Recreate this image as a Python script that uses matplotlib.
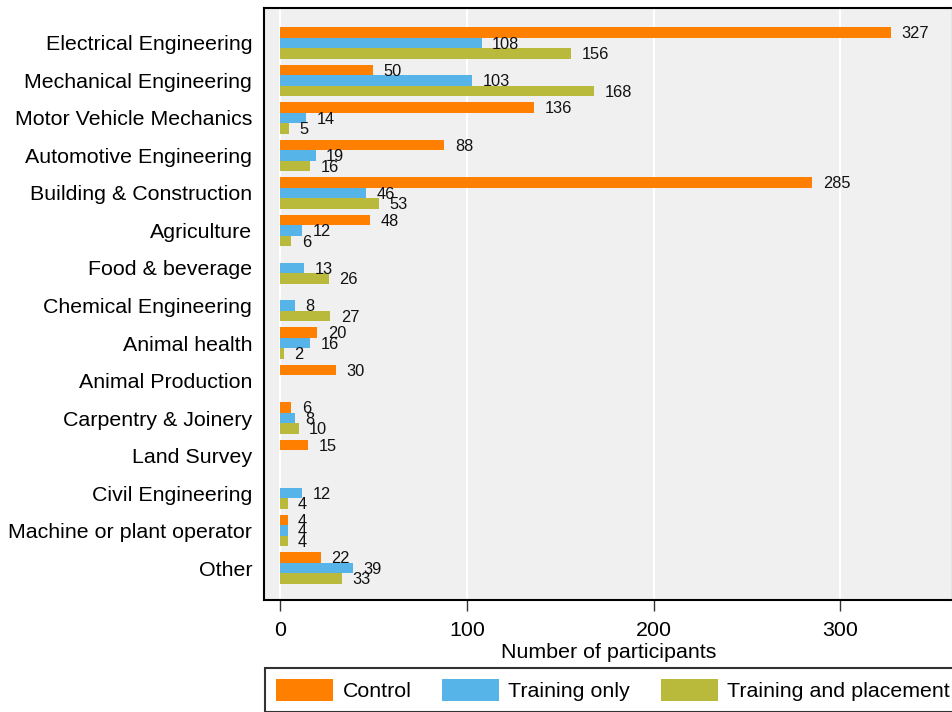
import matplotlib
matplotlib.use('Agg')
import matplotlib.pyplot as plt
import numpy as np

categories = ['Electrical Engineering', 'Mechanical Engineering', 'Motor Vehicle Mechanics',
              'Automotive Engineering', 'Building & Construction', 'Agriculture',
              'Food & beverage', 'Chemical Engineering', 'Animal health', 'Animal Production',
              'Carpentry & Joinery', 'Land Survey', 'Civil Engineering',
              'Machine or plant operator', 'Other']
control = [327, 50, 136, 88, 285, 48, 0, 0, 20, 30, 6, 15, 0, 4, 22]
training_only = [108, 103, 14, 19, 46, 12, 13, 8, 16, 0, 8, 0, 12, 4, 39]
training_placement = [156, 168, 5, 16, 53, 6, 26, 27, 2, 0, 10, 0, 4, 4, 33]
series_names = ['Control', 'Training only', 'Training and placement']
colors = ['#FF7F00', '#56B4E9', '#B9B93C']
xticks = [0, 100, 200, 300]

plt.rcParams['font.family'] = ['Liberation Sans', 'DejaVu Sans']

W, H = 952, 712
fig = plt.figure(figsize=(W / 100, H / 100), dpi=100)
ax = fig.add_axes([264 / W, (H - 600) / H, (953 - 264) / W, (600 - 8) / H])
ax.set_facecolor('#F0F0F0')

y = np.arange(len(categories))
h = 0.28
handles = []
for i, (vals, name, c) in enumerate(zip([control, training_only, training_placement],
                                        series_names, colors)):
    pos = y + (i - 1) * h
    b = ax.barh(pos, vals, height=h, color=c, label=name, zorder=3, linewidth=0)
    handles.append(b)
    for p, v in zip(pos, vals):
        if v > 0:
            ax.annotate(str(v), (v, p), xytext=(7.5, -1), textcoords='offset points',
                        ha='left', va='center', fontsize=11.8, color='#111111', zorder=4)

ax.set_xlim(-8.6, 360.3)
ax.set_ylim(14.853, -0.933)
ax.set_yticks(y)
ax.set_yticklabels(categories)
ax.set_xticks(xticks)
ax.set_xticklabels([str(t) for t in xticks])
ax.grid(axis='x', color='white', linewidth=1.5, zorder=1)
ax.set_axisbelow(True)
ax.tick_params(axis='y', length=0, pad=8.5, labelsize=15.4)
ax.tick_params(axis='x', length=8, width=1, color='#333333', pad=7, labelsize=15.4)
for s in ax.spines.values():
    s.set_color('black')
    s.set_linewidth(1.5)
ax.set_xlabel('Number of participants', fontsize=15.4, labelpad=2)

leg = fig.legend(handles, series_names, loc='upper left',
                 bbox_to_anchor=(265 / W, 1 - 668 / H), ncol=3, frameon=True,
                 fancybox=False, edgecolor='black', fontsize=15.4,
                 handlelength=2.7, handleheight=1.22, handletextpad=0.42,
                 columnspacing=1.42, borderpad=0.5, borderaxespad=0)
leg.get_frame().set_linewidth(1.5)

fig.savefig('out.png', dpi=100, facecolor='white')
